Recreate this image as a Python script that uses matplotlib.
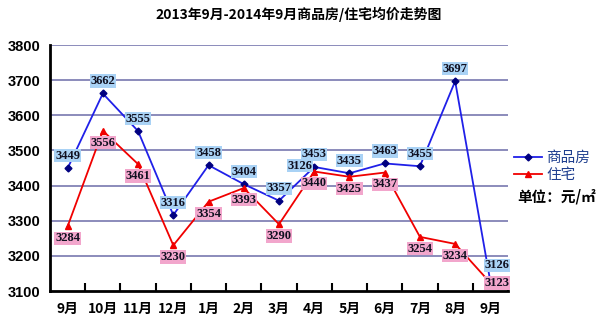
import numpy as np
import matplotlib as mpl
mpl.use('Agg')
import matplotlib.pyplot as plt

months = ['9月', '10月', '11月', '12月', '1月', '2月', '3月',
          '4月', '5月', '6月', '7月', '8月', '9月']
commercial = [3449, 3662, 3555, 3316, 3458, 3404, 3357,
              3453, 3435, 3463, 3455, 3697, 3126]
residential = [3284, 3556, 3461, 3230, 3354, 3393, 3290,
               3440, 3425, 3437, 3254, 3234, 3123]
yticks = [3100, 3200, 3300, 3400, 3500, 3600, 3700, 3800]

cjk = ['Noto Sans CJK SC', 'DejaVu Sans']
num_font = 'Liberation Sans'
lab_font = 'Liberation Serif'

fig = plt.figure(figsize=(6, 3.25), dpi=100, facecolor='white')
ax = fig.add_axes([50 / 600, 34 / 325, 458 / 600, 246 / 325])
x = np.arange(len(months))

# grid lines
for v in yticks[1:]:
    ax.axhline(v, color='#6c6ca8', lw=1.1, zorder=1)

ax.plot(x, commercial, color='#2020e8', lw=1.3, marker='D', ms=3.5,
        mfc='#000080', mec='#000080', zorder=3, label='商品房')
ax.plot(x, residential, color='#f00000', lw=1.3, marker='^', ms=5,
        mfc='#f00000', mec='#f00000', zorder=3, label='住宅')

# data labels
def label(xi, v, text, off, fc, z=4):
    ax.annotate(text, (xi, v), xytext=off, textcoords='offset points',
                ha='center', va='center', fontsize=9, fontweight='bold',
                family=lab_font, color='#101020', zorder=z,
                bbox=dict(boxstyle='square,pad=0.05', fc=fc, ec='none'))

n = len(months)
for i, v in enumerate(commercial):
    label(x[i], v, str(v), (5, 12) if i == n - 1 else (0, 9), '#a9d2f5')
for i, v in enumerate(residential):
    label(x[i], v, str(v), (5, 0) if i == n - 1 else (0, -8.5), '#f2a6cc', z=5)
# stray copy of the last label sitting over the April point in the original
label(x[7], commercial[7], str(commercial[-1]), (-10, 1), '#a9d2f5', z=6)

ax.set_xlim(-0.5, n - 0.5)
ax.set_ylim(3100, 3800)
ax.set_yticks(yticks)
ax.set_yticklabels([str(v) for v in yticks], fontsize=10.5, fontweight='bold',
                   family=num_font)
ax.set_xticks(x)
ax.set_xticklabels(months, fontsize=10, fontweight='bold', family=cjk)
ax.set_xticks(np.arange(0.5, n), minor=True)
ax.tick_params(axis='x', which='major', length=0, pad=8)
ax.tick_params(axis='x', which='minor', direction='in', length=6, width=1.5)
ax.tick_params(axis='y', length=0, pad=7)
for s in ['top', 'right']:
    ax.spines[s].set_visible(False)
for s in ['left', 'bottom']:
    ax.spines[s].set_linewidth(2)
    ax.spines[s].set_color('black')

fig.text(0.497, 0.955, '2013年9月-2014年9月商品房/住宅均价走势图', ha='center',
         va='center', fontsize=10, fontweight='bold', family=cjk)

leg = fig.legend(loc='upper left', bbox_to_anchor=(514 / 600, 1 - 151 / 325),
                 frameon=False, prop={'family': cjk, 'size': 10.5},
                 handlelength=1.9, handletextpad=0.3, labelspacing=0.2,
                 borderaxespad=0, borderpad=0)
for t in leg.get_texts():
    t.set_color('#1f3f8f')
fig.text(517 / 600, 1 - 197 / 325, '单位：元/㎡', ha='left', va='center',
         fontsize=10.5, fontweight='bold', family=cjk)

plt.savefig('out.png', dpi=100, facecolor=fig.get_facecolor())
